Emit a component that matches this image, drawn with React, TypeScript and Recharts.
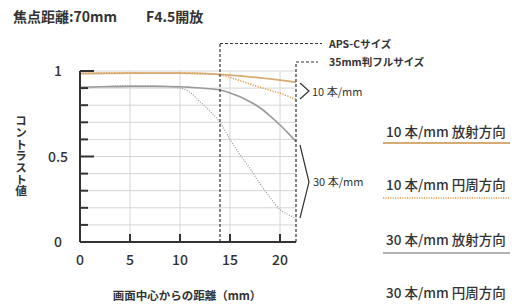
import {
  Line,
  LineChart,
  ReferenceLine,
  XAxis,
  YAxis,
} from 'recharts';

// distance from image centre (mm)
const distances = [0, 2.5, 5, 7.5, 10, 11, 12, 13, 14, 15, 16, 17, 18, 19, 20, 21, 21.6];

// MTF values
const radial10 = [0.985, 0.986, 0.987, 0.987, 0.987, 0.986, 0.985, 0.983, 0.98, 0.976, 0.971, 0.966, 0.96, 0.954, 0.947, 0.939, 0.934];
const tangential10 = [0.988, 0.989, 0.99, 0.99, 0.99, 0.99, 0.988, 0.984, 0.977, 0.962, 0.944, 0.924, 0.905, 0.888, 0.87, 0.848, 0.834];
const radial30 = [0.905, 0.908, 0.91, 0.91, 0.908, 0.905, 0.901, 0.896, 0.889, 0.872, 0.85, 0.82, 0.785, 0.737, 0.684, 0.625, 0.587];
const tangential30 = [0.895, 0.91, 0.915, 0.913, 0.9, 0.875, 0.82, 0.765, 0.7, 0.6, 0.51, 0.43, 0.34, 0.26, 0.19, 0.155, 0.14];

const xTicks = [0, 5, 10, 15, 20];
const yTicks = [0, 0.1, 0.2, 0.3, 0.4, 0.5, 0.6, 0.7, 0.8, 0.9, 1];
const yLabels = [0, 0.5, 1];
const xMax = 21.6;

const apscEdge = 14;
const fullEdge = 21.6;

const legendItems = [
  '10 本/mm 放射方向',
  '10 本/mm 円周方向',
  '30 本/mm 放射方向',
  '30 本/mm 円周方向',
];

const data = distances.map((x, i) => ({
  x,
  r10: radial10[i],
  t10: tangential10[i],
  r30: radial30[i],
  t30: tangential30[i],
}));

const FONT = '"Noto Sans CJK JP", "Noto Sans", sans-serif';
const INK = '#333';
const GRID = '#d6d6d6';
const ORANGE = '#d6ac74';
const ORANGE_DOT = '#e0994a';
const GRAY = '#9a9a9a';

// tick marks point into the plot: lengths in axis units (10 px per mm, 171 px per 1.0)
const yTickLen = (v: number) => (v === 0.5 || v === 1 ? 1.4 : 0.8);
const xTickLen = 0.047;

const YTick = (props: any) => {
  const { x, y, payload } = props;
  if (!yLabels.includes(payload.value)) return <g />;
  return (
    <text x={x - 22} y={y} dy={5} textAnchor="middle" fontSize={14} fontWeight={500} fill={INK} fontFamily={FONT}>
      {String(payload.value)}
    </text>
  );
};

const XTick = (props: any) => {
  const { x, y, payload } = props;
  return (
    <text x={x} y={y + 23} textAnchor="middle" fontSize={14} fontWeight={500} fill={INK} fontFamily={FONT}>
      {payload.value}
    </text>
  );
};

export default function App() {
  return (
    <>
      <style>{`body{margin:0}`}</style>
      <svg
        width={521}
        height={306}
        style={{ position: 'absolute', left: 0, top: 0, zIndex: 0 }}
        fontFamily={FONT}
      >
        <g fill={INK}>
          <text x={13} y={22} fontSize={14} fontWeight="bold">焦点距離:70mm</text>
          <text x={146} y={22} fontSize={14} fontWeight="bold">F4.5開放</text>

          <text
            x={21}
            y={115}
            fontSize={11.7}
            fontWeight="bold"
            style={{ writingMode: 'vertical-rl', textOrientation: 'upright' }}
          >
            コントラスト値
          </text>
          <text x={187} y={300} textAnchor="middle" fontSize={11.5} fontWeight="bold">画面中心からの距離（mm）</text>

          <text x={329} y={48} fontSize={10.5} fontWeight="bold">APS-Cサイズ</text>
          <text x={329} y={66} fontSize={10.5} fontWeight="bold">35mm判フルサイズ</text>

          <text x={312} y={96} fontSize={11}>10 本/mm</text>
          <text x={313} y={186} fontSize={11}>30 本/mm</text>

          {legendItems.map((t, i) => (
            <text key={t} x={386} y={[137, 190, 245, 298][i]} fontSize={13.5} fontWeight={500}>
              {t}
            </text>
          ))}
        </g>
        {/* connectors from the format edges to their labels */}
        <path d="M220,43.5H322 M296,62H318" stroke={INK} strokeWidth={1.2} strokeDasharray="3 2" fill="none" />
        <polyline points="300,83 309,91 300,99" fill="none" stroke={INK} strokeWidth={1.2} />
        <polyline points="300,145 309,182 300,218" fill="none" stroke={INK} strokeWidth={1.2} />
        <line x1={383} x2={510} y1={143} y2={143} stroke={ORANGE} strokeWidth={2} />
        <line x1={383} x2={510} y1={198} y2={198} stroke={ORANGE_DOT} strokeWidth={1.3} strokeDasharray="1.2 1.2" />
        <line x1={383} x2={510} y1={253} y2={253} stroke={GRAY} strokeWidth={1.6} />
      </svg>
      <div style={{ position: 'relative', zIndex: 1, width: 521, height: 306 }}>
        <LineChart width={521} height={306} data={data} margin={{ top: 71, right: 225, bottom: 0, left: 0 }}>
          {/* grid */}
          {yTicks.filter((v) => v > 0).map((v) => (
            <ReferenceLine key={`gy${v}`} y={v} stroke={GRID} strokeWidth={1} zIndex={-100} />
          ))}
          {xTicks.filter((v) => v > 0).map((v) => (
            <ReferenceLine key={`gx${v}`} x={v} stroke={GRID} strokeWidth={1} zIndex={-100} />
          ))}
          <XAxis
            dataKey="x"
            type="number"
            domain={[0, xMax]}
            ticks={xTicks}
            interval={0}
            height={64}
            tickSize={0}
            tickMargin={0}
            tickLine={false}
            tick={(p: any) => <XTick {...p} />}
            axisLine={{ stroke: INK, strokeWidth: 2 }}
          />
          <YAxis
            type="number"
            domain={[0, 1]}
            ticks={yTicks}
            interval={0}
            width={80}
            tickSize={0}
            tickMargin={0}
            tickLine={false}
            tick={(p: any) => <YTick {...p} />}
            axisLine={{ stroke: INK, strokeWidth: 2 }}
          />
          <Line type="monotone" dataKey="t30" stroke={GRAY} strokeWidth={1.2} strokeDasharray="1 1.5" dot={false} isAnimationActive={false} />
          <Line type="monotone" dataKey="r30" stroke={GRAY} strokeWidth={1.6} dot={false} isAnimationActive={false} />
          <Line type="monotone" dataKey="t10" stroke={ORANGE_DOT} strokeWidth={1.5} strokeDasharray="1.2 1.4" dot={false} isAnimationActive={false} />
          <Line type="monotone" dataKey="r10" stroke={ORANGE} strokeWidth={1.8} dot={false} isAnimationActive={false} />
          {/* inward tick marks */}
          {yTicks.filter((v) => v > 0).map((v) => (
            <ReferenceLine key={`ty${v}`} segment={[{ x: 0, y: v }, { x: yTickLen(v), y: v }]} stroke={INK} strokeWidth={2} />
          ))}
          {xTicks.filter((v) => v > 0).map((v) => (
            <ReferenceLine key={`tx${v}`} segment={[{ x: v, y: 0 }, { x: v, y: xTickLen }]} stroke={INK} strokeWidth={2} />
          ))}
          <ReferenceLine segment={[{ x: apscEdge, y: 0 }, { x: apscEdge, y: 1.158 }]} stroke={INK} strokeDasharray="3 2" strokeWidth={1.2} ifOverflow="visible" />
          <ReferenceLine segment={[{ x: fullEdge, y: 0 }, { x: fullEdge, y: 1.053 }]} stroke={INK} strokeDasharray="3 2" strokeWidth={1.2} ifOverflow="visible" />
        </LineChart>
      </div>
    </>
  );
}
